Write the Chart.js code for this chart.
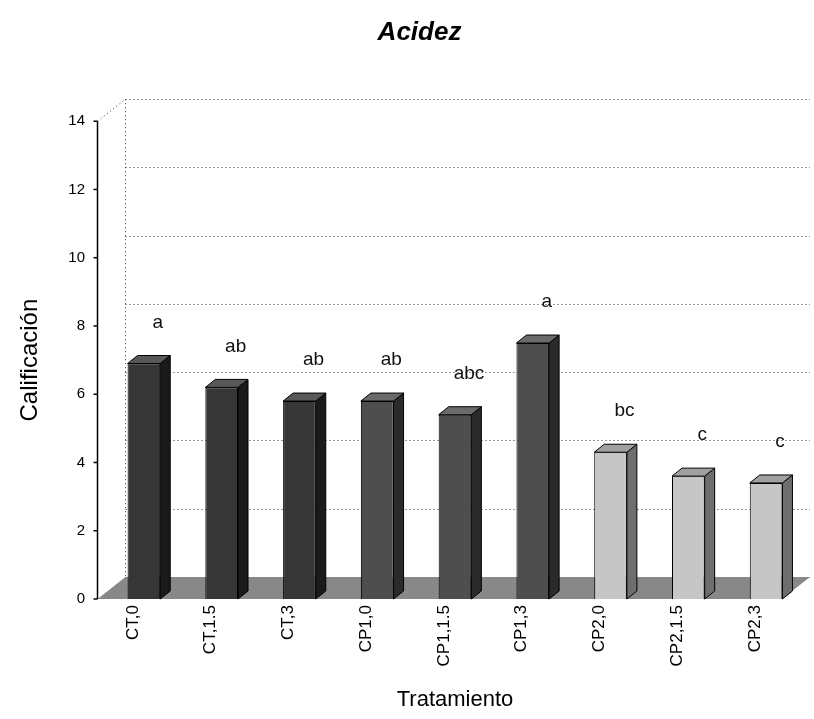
<!doctype html>
<html>
<head>
<meta charset="utf-8">
<script src="https://cdn.jsdelivr.net/npm/chart.js"></script>
<style>
    body { margin: 0px; background: #ffffff; }
    #wrap { width: 814px; height: 719px; }
</style>
</head>
<body>
<div id="wrap"><canvas id="chart" width="814" height="719"></canvas></div>
<script>
// data
const categories = ['CT,0', 'CT,1.5', 'CT,3', 'CP1,0', 'CP1,1.5', 'CP1,3', 'CP2,0', 'CP2,1.5', 'CP2,3'];
const values = [6.9, 6.2, 5.8, 5.8, 5.4, 7.5, 4.3, 3.6, 3.4];
const letters = ['a', 'ab', 'ab', 'ab', 'abc', 'a', 'bc', 'c', 'c'];
const yTicks = [0, 2, 4, 6, 8, 10, 12, 14];

const FONT = '"Liberation Sans", Arial, sans-serif';
const DX = 10, DY = 8;            // bar depth
const WALL_DX = 28, WALL_DY = 22; // back wall offset
const AXIS_GAP = 8;               // y axis line sits left of the plot

function shade(label) {
    if (label.startsWith('CP2')) return { front: '#c6c6c6', side: '#6e6e6e', top: '#a0a0a0' };
    if (label.startsWith('CP1')) return { front: '#4e4e4e', side: '#2a2a2a', top: '#6a6a6a' };
    return { front: '#363636', side: '#1a1a1a', top: '#585858' };
}

// back wall, floor, axis line, bar depth and the letters
const scene = {
    id: 'scene',
    beforeDatasetsDraw(chart) {
        const { ctx, chartArea: a, scales: { y } } = chart;
        const ax = a.left - AXIS_GAP + 0.5;
        const y0 = y.getPixelForValue(0), yTop = y.getPixelForValue(14);
        const wallL = ax + WALL_DX;
        const wallR = chart.width - 4;
        ctx.save();
        ctx.strokeStyle = '#333';
        ctx.lineWidth = 1;
        ctx.setLineDash([1, 3]);
        yTicks.forEach(v => {
            const py = Math.round(y.getPixelForValue(v) - WALL_DY) + 0.5;
            ctx.beginPath(); ctx.moveTo(wallL, py); ctx.lineTo(wallR, py); ctx.stroke();
        });
        ctx.beginPath(); ctx.moveTo(wallL, yTop - WALL_DY); ctx.lineTo(wallL, y0 - WALL_DY); ctx.stroke();
        ctx.beginPath(); ctx.moveTo(ax, yTop); ctx.lineTo(wallL, yTop - WALL_DY); ctx.stroke();
        ctx.setLineDash([]);
        // floor
        ctx.fillStyle = '#888888';
        ctx.beginPath();
        ctx.moveTo(ax, y0); ctx.lineTo(wallR - WALL_DX, y0);
        ctx.lineTo(wallR, y0 - WALL_DY); ctx.lineTo(wallL, y0 - WALL_DY);
        ctx.closePath(); ctx.fill();
        // y axis
        ctx.strokeStyle = '#000';
        ctx.lineWidth = 1.5;
        ctx.beginPath(); ctx.moveTo(ax, yTop); ctx.lineTo(ax, y0); ctx.stroke();
        yTicks.forEach(v => {
            const py = y.getPixelForValue(v);
            ctx.beginPath(); ctx.moveTo(ax - 4, py); ctx.lineTo(ax, py); ctx.stroke();
        });
        ctx.restore();
    },
    afterDatasetsDraw(chart) {
        const { ctx } = chart;
        const meta = chart.getDatasetMeta(0);
        ctx.save();
        meta.data.forEach((bar, i) => {
            const { x, y, base, width } = bar.getProps(['x', 'y', 'base', 'width'], true);
            const c = shade(categories[i]);
            const l = x - width / 2, r = x + width / 2;
            ctx.lineWidth = 1;
            ctx.strokeStyle = '#000';
            ctx.fillStyle = c.side;
            ctx.beginPath();
            ctx.moveTo(r, y); ctx.lineTo(r + DX, y - DY); ctx.lineTo(r + DX, base - DY); ctx.lineTo(r, base);
            ctx.closePath(); ctx.fill(); ctx.stroke();
            ctx.fillStyle = c.top;
            ctx.beginPath();
            ctx.moveTo(l, y); ctx.lineTo(l + DX, y - DY); ctx.lineTo(r + DX, y - DY); ctx.lineTo(r, y);
            ctx.closePath(); ctx.fill(); ctx.stroke();

            ctx.fillStyle = '#111';
            ctx.font = '19px ' + FONT;
            ctx.textAlign = 'center';
            ctx.textBaseline = 'middle';
            ctx.fillText(letters[i], x + 14, y - 41);
        });
        ctx.restore();
    }
};

new Chart(document.getElementById('chart'), {
    type: 'bar',
    data: {
        labels: categories,
        datasets: [{
            data: values,
            backgroundColor: categories.map(c => shade(c).front),
            borderColor: '#000',
            borderWidth: 1,
            categoryPercentage: 0.42,
            barPercentage: 1
        }]
    },
    options: {
        responsive: false,
        animation: false,
        devicePixelRatio: 1,
        layout: { padding: { left: 34, right: 9, top: 0, bottom: 0 } },
        plugins: {
            legend: { display: false },
            tooltip: { enabled: false },
            title: {
                display: true,
                text: 'Acidez',
                color: '#000',
                font: { family: FONT, size: 26, weight: 'bold', style: 'italic' },
                padding: { top: 17, bottom: 73 }
            }
        },
        scales: {
            x: {
                grid: { display: false, drawTicks: false },
                border: { display: false },
                ticks: {
                    autoSkip: false, minRotation: 90, maxRotation: 90,
                    labelOffset: -11, padding: 6, color: '#000',
                    font: { family: FONT, size: 17 }
                },
                title: {
                    display: true, text: 'Tratamiento', color: '#000',
                    font: { family: FONT, size: 22 },
                    padding: { top: 0, bottom: 6 }
                },
                afterFit(s) { s.height = 120; }
            },
            y: {
                min: 0, max: 14,
                ticks: { stepSize: 2, padding: 20, color: '#000', font: { family: FONT, size: 15 } },
                grid: { display: false, drawTicks: false },
                border: { display: false },
                title: {
                    display: true, text: 'Calificación', color: '#000',
                    font: { family: FONT, size: 24 },
                    padding: { top: -18, bottom: 0 }
                },
                afterFit(s) { s.width = 71; }
            }
        }
    },
    plugins: [scene]
});
</script>
</body>
</html>
